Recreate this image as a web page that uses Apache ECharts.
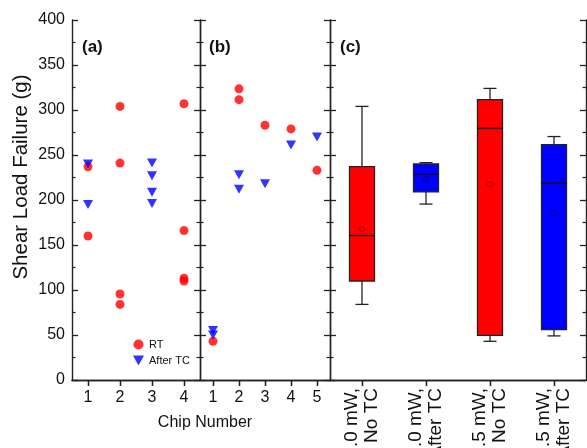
<!DOCTYPE html>
<html><head><meta charset="utf-8">
<script src="https://cdn.jsdelivr.net/npm/echarts@6/dist/echarts.min.js"></script>
<style>html,body{margin:0;padding:0;background:#fff}#c{width:587px;height:448px}</style>
</head><body><div id="c"></div>
<script>
// ---- data ----
const chipsA = ['1','2','3','4'];
const chipsB = ['1','2','3','4','5'];
const boxCats = ['1.0 mW,\nNo TC','1.0 mW,\nAfter TC','0.5 mW,\nNo TC','0.5 mW,\nAfter TC'];
const yTicks = [0,50,100,150,200,250,300,350,400];
// panel (a): [chip index, value]
const aRT = [[0,237],[0,160],[1,304],[1,241],[1,95.5],[1,84],[3,307],[3,166],[3,113],[3,110]];
const aTC = [[0,240],[0,195],[2,241],[2,227],[2,208.5],[2,196]];
// panel (b)
const bRT = [[0,43],[1,323.5],[1,311.5],[2,283],[3,279],[4,233]];
const bTC = [[0,55],[0,50],[1,228],[1,212],[2,218],[3,261],[4,270]];
// panel (c): [min, Q1, median, Q3, max]
const boxStats = [[84,110,160.5,237,304],[195.5,209,228.5,240,241.5],[43,49.5,279.5,311.5,324],[49,56,218.5,261.5,270.5]];
const means = [167.8,223,217.4,185.6];

const FONT = 'Liberation Sans, Arial, sans-serif';
const RED = '#ff0000', BLUE = '#0000ff';
const boxColors = [RED, BLUE, RED, BLUE];
const meanColors = ['#8a0000', '#000055', '#8a0000', '#000055'];
const TRI = 'path://M0,0L10,0L5,9Z';

const grids = [
  {left:72, top:20, width:128, height:360, outerBoundsMode:'none', containLabel:false},
  {left:200, top:20, width:130, height:360, outerBoundsMode:'none', containLabel:false},
  {left:330, top:20, width:256, height:360, outerBoundsMode:'none', containLabel:false}
];
const axLine = {show:true, lineStyle:{color:'#222', width:1.4}};
function xAx(i, cats, showLabel){
  return [{
    type:'category', gridIndex:i, data:cats, position:'bottom', boundaryGap:true,
    axisLine:axLine,
    axisTick:{show:true, alignWithLabel:true, inside:false, length:6, lineStyle:{color:'#222', width:1.3}},
    axisLabel: showLabel,
    splitLine:{show:false}
  },{
    type:'category', gridIndex:i, data:cats, position:'top', boundaryGap:true,
    axisLine:axLine,
    axisTick:{show:true, alignWithLabel:true, inside:true, length:6, lineStyle:{color:'#222', width:1.3}},
    axisLabel:{show:false}, splitLine:{show:false}
  }];
}
function yAx(i, pos, labels){
  return {
    type:'value', gridIndex:i, position:pos, min:0, max:400, interval:50,
    axisLine:axLine,
    axisTick:{show:true, inside:true, length:6, lineStyle:{color:'#222', width:1.3}},
    minorTick:{show:true, splitNumber:2, length:3.5, lineStyle:{color:'#222', width:1.2}},
    axisLabel:{show:labels, fontFamily:FONT, fontSize:16, color:'#111', margin:7},
    splitLine:{show:false}, minorSplitLine:{show:false}
  };
}
const numLbl = {show:true, fontFamily:FONT, fontSize:16, color:'#111', margin:10};
const boxLbl = {show:true, rotate:90, fontFamily:FONT, fontSize:19, color:'#111', margin:8,
  lineHeight:20, interval:0, align:'right', verticalAlign:'middle', hideOverlap:false};

const xAxis = [].concat(xAx(0, chipsA, numLbl), xAx(1, chipsB, numLbl), xAx(2, boxCats, boxLbl));
const yAxis = [
  yAx(0,'left',true), yAx(0,'right',false),
  yAx(1,'left',false), yAx(1,'right',false),
  yAx(2,'left',false), yAx(2,'right',false)
];

function renderBox(params, api){
  const i = api.value(0);
  const cx = api.coord([i, api.value(3)])[0];
  const y = k => api.coord([i, api.value(k)])[1];
  const ymin = y(1), yq1 = y(2), ymed = y(3), yq3 = y(4), ymax = y(5);
  const hw = 12.5, cw = 6.5;
  const st = {stroke:'#222', lineWidth:1.3};
  return {type:'group', children:[
    {type:'line', shape:{x1:cx, y1:ymax, x2:cx, y2:yq3}, style:st},
    {type:'line', shape:{x1:cx, y1:yq1, x2:cx, y2:ymin}, style:st},
    {type:'line', shape:{x1:cx-cw, y1:ymax, x2:cx+cw, y2:ymax}, style:st},
    {type:'line', shape:{x1:cx-cw, y1:ymin, x2:cx+cw, y2:ymin}, style:st},
    {type:'rect', shape:{x:cx-hw, y:yq3, width:2*hw, height:yq1-yq3},
     style:{fill:boxColors[params.dataIndex], stroke:'#222', lineWidth:1.3}},
    {type:'line', shape:{x1:cx-hw, y1:ymed, x2:cx+hw, y2:ymed}, style:{stroke:'#111', lineWidth:1.4}}
  ]};
}

const circ = {symbol:'circle', symbolSize:9, itemStyle:{color:RED}};
const tri = {symbol:TRI, symbolSize:[10,9], itemStyle:{color:BLUE}};
const series = [
  Object.assign({type:'scatter', name:'RT', xAxisIndex:0, yAxisIndex:0, data:aRT}, circ),
  Object.assign({type:'scatter', name:'After TC', xAxisIndex:0, yAxisIndex:0, data:aTC}, tri),
  Object.assign({type:'scatter', name:'RT', xAxisIndex:2, yAxisIndex:2, data:bRT}, circ),
  Object.assign({type:'scatter', name:'After TC', xAxisIndex:2, yAxisIndex:2, data:bTC}, tri),
  {type:'custom', name:'box', xAxisIndex:4, yAxisIndex:4,
   data:boxStats.map((v,i)=>[i].concat(v)),
   encode:{x:0, y:[1,2,3,4,5]}, renderItem:renderBox, z:2},
  {type:'scatter', name:'mean', xAxisIndex:4, yAxisIndex:4, symbol:'circle', symbolSize:5,
   data:means.map((v,i)=>({value:[i,v], itemStyle:{color:'rgba(0,0,0,0)', borderColor:meanColors[i], borderWidth:1}})),
   z:5}
];

const chart = echarts.init(document.getElementById('c'), null, {renderer:'canvas'});
chart.setOption({
  animation:false,
  backgroundColor:'#fff',
  grid:grids,
  xAxis:xAxis, yAxis:yAxis, series:series,
  legend:{data:['RT','After TC'], orient:'vertical', left:128, top:334, itemGap:5,
    itemWidth:11, itemHeight:10, textStyle:{fontFamily:FONT, fontSize:11, color:'#111'},
    selectedMode:false},
  graphic:[
    {type:'text', left:82, top:39, style:{text:'(a)', fontFamily:FONT, fontSize:17, fontWeight:'bold', fill:'#111'}},
    {type:'text', left:209, top:39, style:{text:'(b)', fontFamily:FONT, fontSize:17, fontWeight:'bold', fill:'#111'}},
    {type:'text', left:340, top:39, style:{text:'(c)', fontFamily:FONT, fontSize:17, fontWeight:'bold', fill:'#111'}},
    {type:'text', x:205, y:423, style:{text:'Chip Number', fontFamily:FONT, fontSize:16, fill:'#111', align:'center', verticalAlign:'middle'}},
    {type:'text', x:21, y:177, rotation:Math.PI/2, style:{text:'Shear Load Failure (g)', fontFamily:FONT, fontSize:20.5, fill:'#111', align:'center', verticalAlign:'middle'}}
  ]
});
</script></body></html>
